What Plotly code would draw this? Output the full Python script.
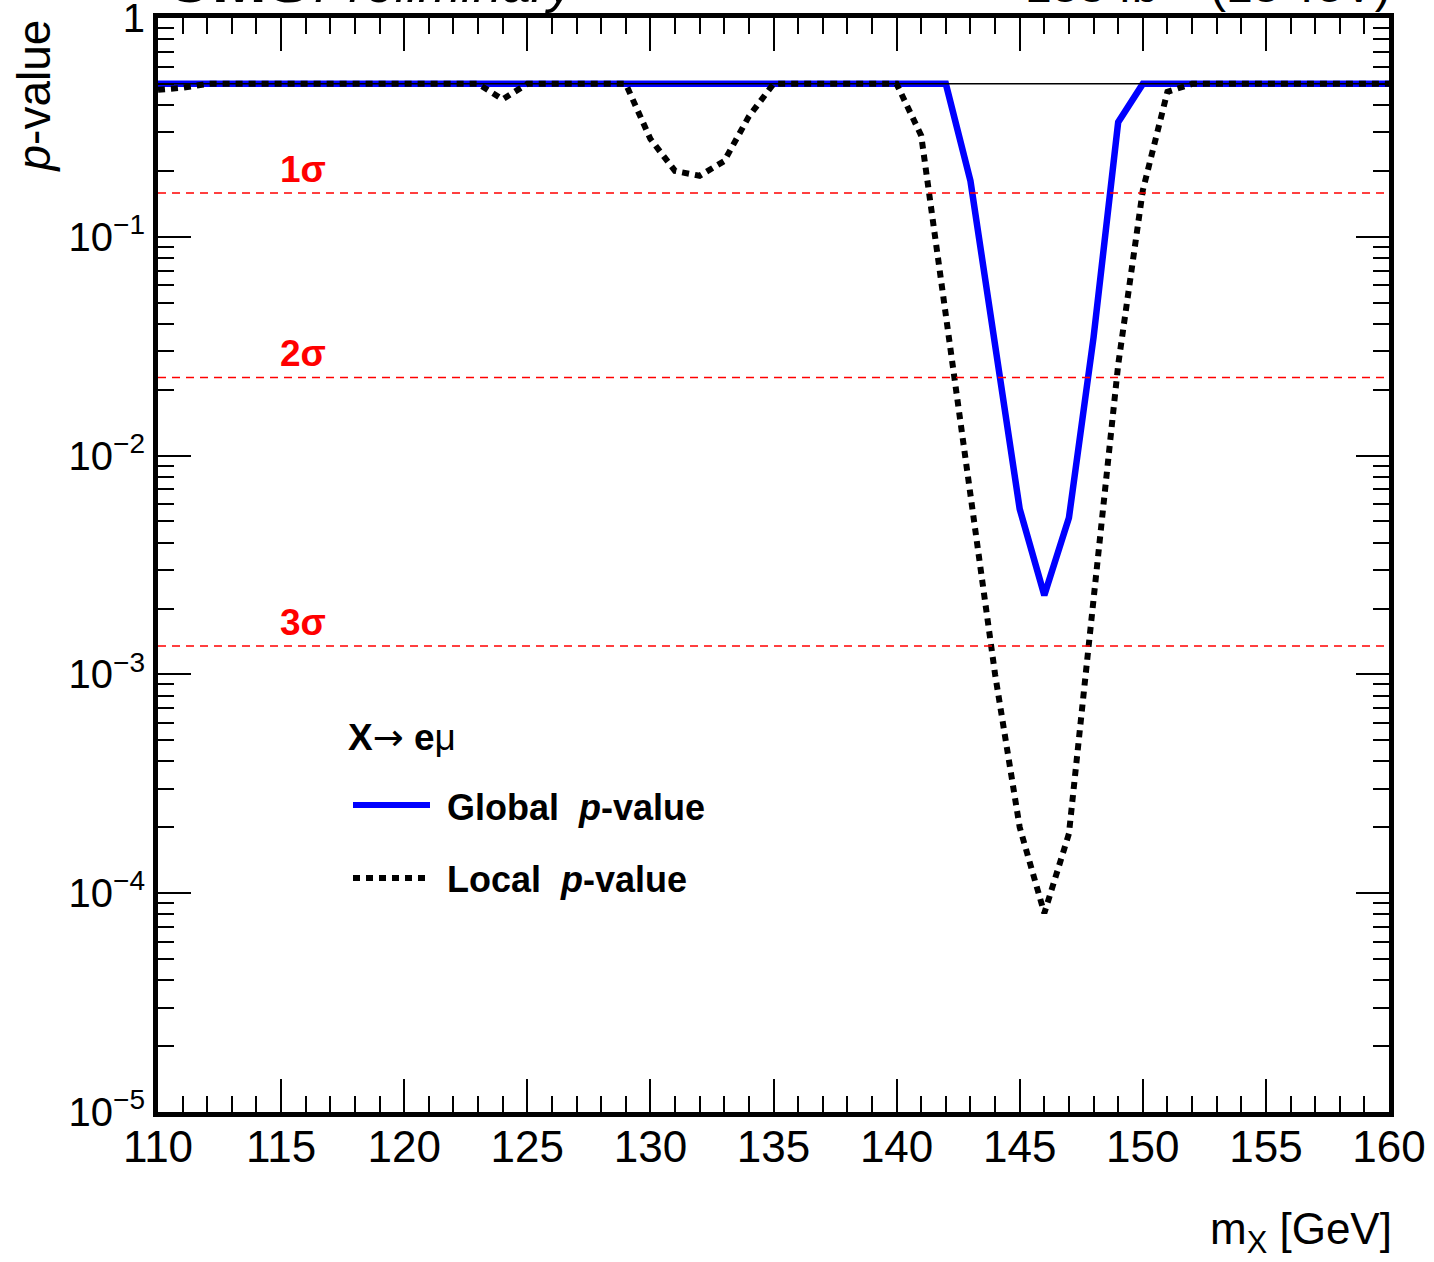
import math
import plotly.graph_objects as go

# ---------------- data ----------------
mass = [110, 111, 112, 113, 114, 115, 116, 117, 118, 119,
        120, 121, 122, 123, 124, 125, 126, 127, 128, 129,
        130, 131, 132, 133, 134, 135, 136, 137, 138, 139,
        140, 141, 142, 143, 144, 145, 146, 147, 148, 149,
        150, 151, 152, 153, 154, 155, 156, 157, 158, 159, 160]

global_p = [0.5, 0.5, 0.5, 0.5, 0.5, 0.5, 0.5, 0.5, 0.5, 0.5,
            0.5, 0.5, 0.5, 0.5, 0.5, 0.5, 0.5, 0.5, 0.5, 0.5,
            0.5, 0.5, 0.5, 0.5, 0.5, 0.5, 0.5, 0.5, 0.5, 0.5,
            0.5, 0.5, 0.5, 0.18, 0.0325, 0.0057, 0.0023, 0.0052, 0.0347, 0.334,
            0.5, 0.5, 0.5, 0.5, 0.5, 0.5, 0.5, 0.5, 0.5, 0.5, 0.5]

local_p = [0.47, 0.48, 0.5, 0.5, 0.5, 0.5, 0.5, 0.5, 0.5, 0.5,
           0.5, 0.5, 0.5, 0.5, 0.425, 0.5, 0.5, 0.5, 0.5, 0.5,
           0.28, 0.2, 0.19, 0.222, 0.355, 0.5, 0.5, 0.5, 0.5, 0.5,
           0.5, 0.29, 0.0437, 0.0071, 0.001, 0.0002, 0.000081, 0.000187, 0.0021, 0.026,
           0.163, 0.46, 0.5, 0.5, 0.5, 0.5, 0.5, 0.5, 0.5, 0.5, 0.5]

ref_p = 0.5
sigma_labels = ["1σ", "2σ", "3σ"]
sigma_p = [0.1587, 0.02275, 0.00135]
sigma_label_x = 115.9

y_tickvals = [1e-5, 1e-4, 1e-3, 1e-2, 1e-1, 1]
y_ticktext = ["10<sup>−5</sup>", "10<sup>−4</sup>", "10<sup>−3</sup>",
              "10<sup>−2</sup>", "10<sup>−1</sup>", "1"]

# ---------------- geometry ----------------
W, H = 1434, 1262
L, R, T, B = 158, 1389, 18, 1112
FONT = "Liberation Sans, Arial, Helvetica, sans-serif"


def px2x(px):
    return (px - L) / (R - L)


def py2y(py):
    return (B - py) / (B - T)


minor_y = [k * 10.0 ** e for e in range(-5, 0) for k in range(2, 10)]

fig = go.Figure()

fig.add_trace(go.Scatter(x=mass, y=global_p, mode="lines", name="Global p-value",
                         line=dict(color="#0000ff", width=6.5), showlegend=False))
fig.add_trace(go.Scatter(x=mass, y=local_p, mode="lines", name="Local p-value",
                         line=dict(color="black", width=6, dash="7px,6px"), showlegend=False))
fig.add_trace(go.Scatter(x=[110, 160], y=[ref_p, ref_p], mode="lines", xaxis="x2", yaxis="y2",
                         line=dict(color="black", width=1.5), showlegend=False, hoverinfo="skip"))

common_x = dict(range=[110, 160], showgrid=False, zeroline=False, ticks="inside",
                ticklen=33, tickwidth=2, tickcolor="black", tick0=110, dtick=5,
                automargin=False,
                minor=dict(ticks="inside", ticklen=16, tickwidth=2, tickcolor="black",
                           dtick=1, tick0=110, showgrid=False))
common_y = dict(type="log", range=[-5, 0], showgrid=False, zeroline=False, ticks="inside",
                ticklen=33, tickwidth=2, tickcolor="black", tickmode="array",
                tickvals=y_tickvals, automargin=False,
                minor=dict(ticks="inside", ticklen=16, tickwidth=2, tickcolor="black",
                           tickmode="array", tickvals=minor_y, showgrid=False))

fig.update_layout(
    width=W, height=H,
    margin=dict(l=L, r=W - R, t=T, b=H - B, pad=0, autoexpand=False),
    plot_bgcolor="white", paper_bgcolor="white",
    showlegend=False,
    font=dict(family=FONT, color="black"),
    xaxis=dict(**common_x, showline=True, linewidth=5, linecolor="black", mirror=True,
               tickfont=dict(size=44, family=FONT), anchor="y", ticklabelstandoff=-8),
    yaxis=dict(**common_y, showline=True, linewidth=5, linecolor="black", mirror=True,
               ticktext=y_ticktext, tickfont=dict(size=40, family=FONT), anchor="x",
               ticklabeloverflow="allow"),
    xaxis2=dict(**common_x, overlaying="x", side="top", anchor="y2", showticklabels=False,
                showline=False),
    yaxis2=dict(**common_y, overlaying="y", side="right", anchor="x2", showticklabels=False,
                showline=False),
)

shapes = []
for sp in sigma_p:
    shapes.append(dict(type="line", xref="paper", x0=0, x1=1, yref="y", y0=sp, y1=sp,
                       line=dict(color="#ff0000", width=1.5, dash="8px,6px"), layer="above"))
# legend samples
shapes.append(dict(type="line", xref="paper", yref="paper", x0=px2x(353), x1=px2x(430),
                   y0=py2y(805), y1=py2y(805), line=dict(color="#0000ff", width=6)))
shapes.append(dict(type="line", xref="paper", yref="paper", x0=px2x(353), x1=px2x(427),
                   y0=py2y(878), y1=py2y(878), line=dict(color="black", width=6, dash="7px,6px")))
fig.update_layout(shapes=shapes)

ann = []
for lab, sp in zip(sigma_labels, sigma_p):
    ann.append(dict(x=sigma_label_x, y=math.log10(sp), xref="x", yref="y",
                    yanchor="bottom", xanchor="center",
                    text="<b>" + lab + "</b>", showarrow=False, yshift=1,
                    font=dict(size=37, color="#ff0000", family=FONT)))

ARROW = '<span style="font-family:DejaVu Sans;font-weight:normal">→</span>'
ann += [
    dict(x=px2x(346), y=py2y(737), xref="paper", yref="paper", xanchor="left", yanchor="middle",
         text="<b>X</b>" + ARROW + " <b>e</b>μ", showarrow=False, font=dict(size=37, family=FONT)),
    dict(x=px2x(445), y=py2y(807), xref="paper", yref="paper", xanchor="left", yanchor="middle",
         text="<b>Global\u00a0 <i>p</i>-value</b>", showarrow=False, font=dict(size=36, family=FONT)),
    dict(x=px2x(445), y=py2y(879), xref="paper", yref="paper", xanchor="left", yanchor="middle",
         text="<b>Local\u00a0 <i>p</i>-value</b>", showarrow=False, font=dict(size=36, family=FONT)),
    # axis titles
    dict(x=1, y=py2y(1232), xref="paper", yref="paper", xanchor="right", yanchor="middle",
         text="m<sub>X</sub> [GeV]", showarrow=False, xshift=5, font=dict(size=44, family=FONT)),
    dict(x=px2x(33), y=py2y(18), xref="paper", yref="paper", xanchor="center", yanchor="top",
         text="<i>p</i>-value", textangle=-90, showarrow=False, font=dict(size=46, family=FONT)),
    # header (clipped at the top, as in the reference)
    dict(x=px2x(162), y=py2y(18), xref="paper", yref="paper", xanchor="left", yanchor="bottom",
         text="<b>CMS</b>", showarrow=False, font=dict(size=66, family=FONT)),
    dict(x=px2x(312), y=py2y(15), xref="paper", yref="paper", xanchor="left", yanchor="bottom",
         text="<i>Preliminary</i>", showarrow=False, font=dict(size=52, family=FONT)),
    dict(x=1, y=py2y(14), xref="paper", yref="paper", xanchor="right", yanchor="bottom",
         text="138 fb<sup>−1</sup> (13 TeV)", showarrow=False, xshift=4, font=dict(size=48, family=FONT)),
]
fig.update_layout(annotations=ann)

fig.write_html("out.html")
